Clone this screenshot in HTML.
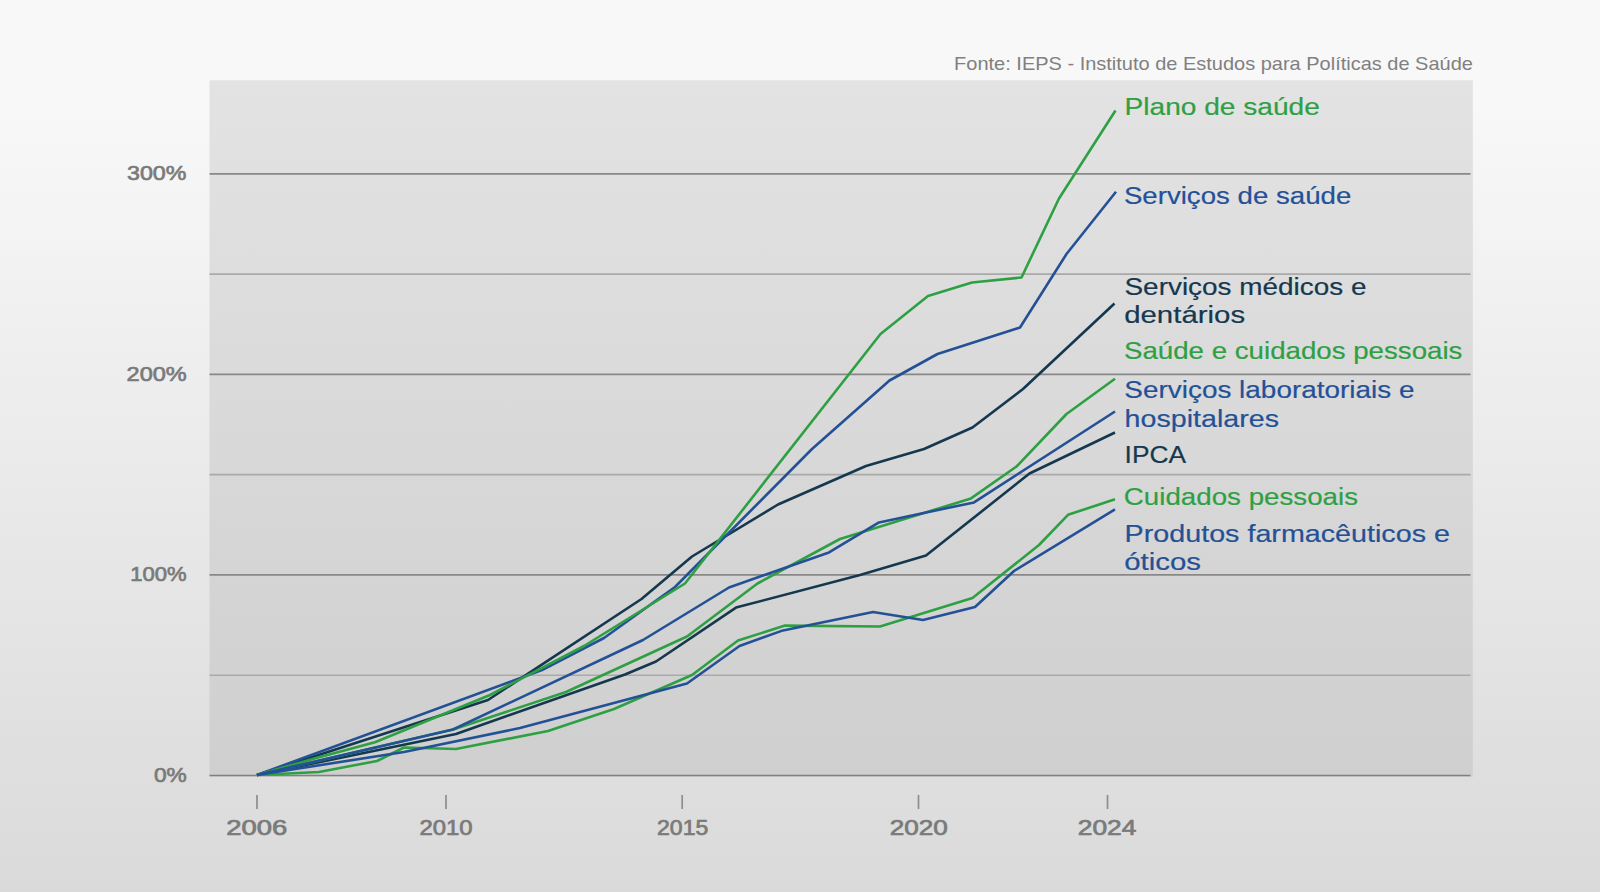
<!DOCTYPE html>
<html><head><meta charset="utf-8"><style>
html,body{margin:0;padding:0;width:1600px;height:892px;overflow:hidden;background:#f8f8f8}
svg{display:block;font-family:"Liberation Sans",sans-serif}
</style></head><body>
<svg width="1600" height="892" viewBox="0 0 1600 892">
<defs><linearGradient id="bg" x1="0" y1="0" x2="0" y2="1"><stop offset="0" stop-color="#f8f8f8"/><stop offset="0.12" stop-color="#f8f8f8"/><stop offset="1" stop-color="#dadada"/></linearGradient><linearGradient id="pl" x1="0" y1="0" x2="0" y2="1"><stop offset="0" stop-color="#e3e3e3"/><stop offset="1" stop-color="#cfcfcf"/></linearGradient></defs>
<rect x="0" y="0" width="1600" height="892" fill="url(#bg)"/>
<rect x="209.5" y="80.3" width="1263.3" height="696.5" fill="url(#pl)"/>
<line x1="209.5" x2="1470.5" y1="675.23" y2="675.23" stroke="#a9a9a9" stroke-width="1.7"/>
<line x1="209.5" x2="1470.5" y1="474.69" y2="474.69" stroke="#a9a9a9" stroke-width="1.7"/>
<line x1="209.5" x2="1470.5" y1="274.15" y2="274.15" stroke="#a9a9a9" stroke-width="1.7"/>
<line x1="209.5" x2="1470.5" y1="574.96" y2="574.96" stroke="#888" stroke-width="1.7"/>
<line x1="209.5" x2="1470.5" y1="374.42" y2="374.42" stroke="#888" stroke-width="1.7"/>
<line x1="209.5" x2="1470.5" y1="173.88" y2="173.88" stroke="#888" stroke-width="1.7"/>
<line x1="209.5" x2="1470.5" y1="775.50" y2="775.50" stroke="#808080" stroke-width="1.7"/>
<line x1="257.0" x2="257.0" y1="795" y2="809" stroke="#8e8e8e" stroke-width="1.7"/>
<line x1="446.0" x2="446.0" y1="795" y2="809" stroke="#8e8e8e" stroke-width="1.7"/>
<line x1="682.2" x2="682.2" y1="795" y2="809" stroke="#8e8e8e" stroke-width="1.7"/>
<line x1="918.5" x2="918.5" y1="795" y2="809" stroke="#8e8e8e" stroke-width="1.7"/>
<line x1="1107.5" x2="1107.5" y1="795" y2="809" stroke="#8e8e8e" stroke-width="1.7"/>
<path d="M257,775 L488,700 L641.5,599 L692,556.5 L778,504.5 L866,466 L924,449 L972.5,427.5 L1023,389 L1114.5,303.5" fill="none" stroke="#15384f" stroke-width="2.6" stroke-linejoin="round"/>
<path d="M257,775 L542,670 L604,638 L675,587 L812,449 L889.5,380.5 L937.5,354 L1020,327.5 L1066.5,254 L1116,191.8" fill="none" stroke="#245196" stroke-width="2.6" stroke-linejoin="round"/>
<path d="M257,775 L318,757.5 L375,742.3 L490,695 L584,646 L685,583.5 L880.5,334 L928,296 L972,282.5 L1021.5,277.5 L1059,198.5 L1115.5,110.5" fill="none" stroke="#2ea043" stroke-width="2.6" stroke-linejoin="round"/>
<path d="M257,775 L456,734 L625,674.5 L656,661.5 L736,607.6 L860,575 L926,555.6 L1029.5,473.5 L1115,432.5" fill="none" stroke="#15384f" stroke-width="2.6" stroke-linejoin="round"/>
<path d="M257,775 L453,729.5 L566,692 L687,636.5 L757.5,583.5 L840,539 L971,498.4 L1016.5,466.5 L1066.5,414 L1115,378.8" fill="none" stroke="#2ea043" stroke-width="2.6" stroke-linejoin="round"/>
<path d="M257,775 L453,729.5 L643,640 L729,587.5 L829,552.4 L879,522.4 L974,502.4 L1115,411.5" fill="none" stroke="#245196" stroke-width="2.6" stroke-linejoin="round"/>
<path d="M257,775 L319,772 L377,761 L404,747.5 L456,749 L548,731 L614,709 L692,675 L738,640.5 L785,625.6 L880,626.5 L972.5,598 L1039,545 L1068,514.8 L1115,499.3" fill="none" stroke="#2ea043" stroke-width="2.6" stroke-linejoin="round"/>
<path d="M257,775 L404,752 L520,728 L687,683.5 L739.5,646 L783,630.4 L873,612 L923,620 L975,607 L1014,571 L1115,509.3" fill="none" stroke="#245196" stroke-width="2.6" stroke-linejoin="round"/>
<text x="1124.53" y="115.05" font-size="24.6" fill="#2ea043" stroke="#2ea043" stroke-width="0.2" text-anchor="start" textLength="195.38" lengthAdjust="spacingAndGlyphs">Plano de saúde</text>
<text x="1123.91" y="203.80" font-size="24.6" fill="#245196" stroke="#245196" stroke-width="0.2" text-anchor="start" textLength="227.37" lengthAdjust="spacingAndGlyphs">Serviços de saúde</text>
<text x="1124.50" y="294.95" font-size="24.6" fill="#15384f" stroke="#15384f" stroke-width="0.2" text-anchor="start" textLength="241.94" lengthAdjust="spacingAndGlyphs">Serviços médicos e</text>
<text x="1124.18" y="323.15" font-size="24.6" fill="#15384f" stroke="#15384f" stroke-width="0.2" text-anchor="start" textLength="120.96" lengthAdjust="spacingAndGlyphs">dentários</text>
<text x="1124.00" y="358.80" font-size="24.6" fill="#2ea043" stroke="#2ea043" stroke-width="0.2" text-anchor="start" textLength="338.45" lengthAdjust="spacingAndGlyphs">Saúde e cuidados pessoais</text>
<text x="1124.34" y="398.00" font-size="24.6" fill="#245196" stroke="#245196" stroke-width="0.2" text-anchor="start" textLength="290.15" lengthAdjust="spacingAndGlyphs">Serviços laboratoriais e</text>
<text x="1124.62" y="426.65" font-size="24.6" fill="#245196" stroke="#245196" stroke-width="0.2" text-anchor="start" textLength="154.51" lengthAdjust="spacingAndGlyphs">hospitalares</text>
<text x="1124.60" y="463.15" font-size="24.6" fill="#15384f" stroke="#15384f" stroke-width="0.2" text-anchor="start" textLength="61.44" lengthAdjust="spacingAndGlyphs">IPCA</text>
<text x="1123.86" y="505.30" font-size="24.6" fill="#2ea043" stroke="#2ea043" stroke-width="0.2" text-anchor="start" textLength="234.19" lengthAdjust="spacingAndGlyphs">Cuidados pessoais</text>
<text x="1124.62" y="541.90" font-size="24.6" fill="#245196" stroke="#245196" stroke-width="0.2" text-anchor="start" textLength="325.32" lengthAdjust="spacingAndGlyphs">Produtos farmacêuticos e</text>
<text x="1124.26" y="570.05" font-size="24.6" fill="#245196" stroke="#245196" stroke-width="0.2" text-anchor="start" textLength="76.79" lengthAdjust="spacingAndGlyphs">óticos</text>
<text x="954.13" y="70.20" font-size="17.8" fill="#808080" text-anchor="start" textLength="518.78" lengthAdjust="spacingAndGlyphs">Fonte: IEPS - Instituto de Estudos para Políticas de Saúde</text>
<text x="126.98" y="180.40" font-size="21.0" fill="#7a7a7a" stroke="#7a7a7a" stroke-width="0.7" text-anchor="start" textLength="59.40" lengthAdjust="spacingAndGlyphs">300%</text>
<text x="126.62" y="380.60" font-size="21.0" fill="#7a7a7a" stroke="#7a7a7a" stroke-width="0.7" text-anchor="start" textLength="60.19" lengthAdjust="spacingAndGlyphs">200%</text>
<text x="130.25" y="580.75" font-size="21.0" fill="#7a7a7a" stroke="#7a7a7a" stroke-width="0.7" text-anchor="start" textLength="56.40" lengthAdjust="spacingAndGlyphs">100%</text>
<text x="153.96" y="781.90" font-size="21.0" fill="#7a7a7a" stroke="#7a7a7a" stroke-width="0.7" text-anchor="start" textLength="32.82" lengthAdjust="spacingAndGlyphs">0%</text>
<text x="226.38" y="835.00" font-size="21.4" fill="#7a7a7a" stroke="#7a7a7a" stroke-width="0.7" text-anchor="start" textLength="61.01" lengthAdjust="spacingAndGlyphs">2006</text>
<text x="419.53" y="835.00" font-size="21.4" fill="#7a7a7a" stroke="#7a7a7a" stroke-width="0.7" text-anchor="start" textLength="53.15" lengthAdjust="spacingAndGlyphs">2010</text>
<text x="657.07" y="835.00" font-size="21.4" fill="#7a7a7a" stroke="#7a7a7a" stroke-width="0.7" text-anchor="start" textLength="51.24" lengthAdjust="spacingAndGlyphs">2015</text>
<text x="889.69" y="835.00" font-size="21.4" fill="#7a7a7a" stroke="#7a7a7a" stroke-width="0.7" text-anchor="start" textLength="58.10" lengthAdjust="spacingAndGlyphs">2020</text>
<text x="1077.78" y="835.00" font-size="21.4" fill="#7a7a7a" stroke="#7a7a7a" stroke-width="0.7" text-anchor="start" textLength="58.52" lengthAdjust="spacingAndGlyphs">2024</text>
</svg>
</body></html>
